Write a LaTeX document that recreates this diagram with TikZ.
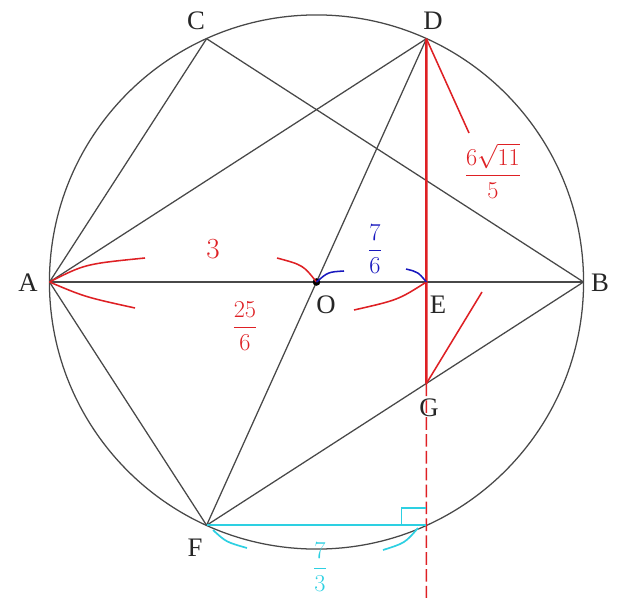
\documentclass[tikz,border=0pt]{standalone}
\usepackage{amsmath}
\usepackage{fontspec}
\setmainfont{Liberation Serif}
\usepackage{xcolor}
\usetikzlibrary{calc}
\definecolor{redpen}{RGB}{222,32,36}
\definecolor{bluepen}{RGB}{24,24,190}
\definecolor{cyanpen}{RGB}{45,208,226}
\definecolor{linegray}{RGB}{72,72,72}

\begin{document}
\begin{tikzpicture}[x=0.025cm,y=-0.025cm,
        seg/.style={draw=linegray,line width=0.9pt},
        ptlabel/.style={font=\fontsize{19}{21}\selectfont,text=black!85},
        redmark/.style={draw=redpen,line width=1.1pt},
        bluemark/.style={draw=bluepen,line width=1.1pt},
        cyanmark/.style={draw=cyanpen,line width=1.2pt},
        hand/.style={font=\fontsize{18}{20}\selectfont}]
        \useasboundingbox (0,0) rectangle (640,598);

        %%points on the circle
        \coordinate (O) at (316.5,282);
        \coordinate (A) at (49.5,282);
        \coordinate (B) at (583.5,282);
        \coordinate (C) at (206.6,38.7);
        \coordinate (D) at (426.4,38.7);
        \coordinate (F) at (206.6,525.3);
        \coordinate (E) at (D |- A);
        \coordinate (G) at (intersection of D--E and F--B);
        \coordinate (H) at (D |- F);
        \coordinate (Z) at (426.4,598);

        \draw[seg] (O) circle (6.675cm);

        %%chords
        \draw[seg] (A) -- (C);
        \draw[seg] (C) -- (B);
        \draw[seg] (A) -- (D);
        \draw[seg] (D) -- (F);
        \draw[seg] (A) -- (B);
        \draw[seg] (A) -- (F);
        \draw[seg] (F) -- (B);
        \draw[draw=redpen,line width=1.8pt] (D) -- (G);
        \draw[draw=redpen,line width=1.1pt,dashed,dash pattern=on 9pt off 3pt] (G) -- (Z);
        \fill (O) circle (3.8);

        %%letters
        \node[ptlabel] (lA) at (28,283){A};
        \node[ptlabel] (lB) at (600,283){B};
        \node[ptlabel] (lC) at (196,21){C};
        \node[ptlabel] (lD) at (433,21){D};
        \node[ptlabel] (lO) at (326,305){O};
        \node[ptlabel] (lE) at (438,305){E};
        \node[ptlabel] (lG) at (429,408){G};
        \node[ptlabel] (lF) at (195,548){F};

        %%red marks
        \draw[redmark] (A) .. controls (85,264) .. (145,258);
        \draw[redmark] (A) .. controls (85,297) .. (135,308);
        \draw[redmark] (277,258) .. controls (303,265) .. (O);
        \draw[redmark] (354,310) .. controls (398,300) .. (E);
        \node[hand,text=redpen,font=\fontsize{20}{22}\selectfont] (three) at (213,249){$3$};
        \node[hand,text=redpen] (AOlen) at (245,326){$\dfrac{25}{6}$};
        \draw[redmark] (D) -- (469,133);
        \draw[redmark] (G) -- (482,292);
        \node[hand,text=redpen,font=\fontsize{16}{18}\selectfont] (DGlen) at (493,171){$\dfrac{6\sqrt{11}}{5}$};

        %%blue marks
        \draw[bluemark] (O) .. controls (328,272) .. (344,271);
        \draw[bluemark] (406,269) .. controls (418,272) .. (E);
        \node[hand,text=bluepen,font=\fontsize{16}{18}\selectfont] (OElen) at (375,249){$\dfrac{7}{6}$};

        %%cyan marks
        \draw[cyanmark] (F) -- (H);
        \draw[cyanmark] (H) ++(-25,0) -- ++(0,-17) -- ++(25,0);
        \draw[cyanmark] (213,530) .. controls (226,542) .. (247,548);
        \draw[cyanmark] (383,550) .. controls (405,543) .. (418,528);
        \node[hand,text=cyanpen] (FHlen) at (320,567){$\dfrac{7}{3}$};
\end{tikzpicture}
\end{document}
